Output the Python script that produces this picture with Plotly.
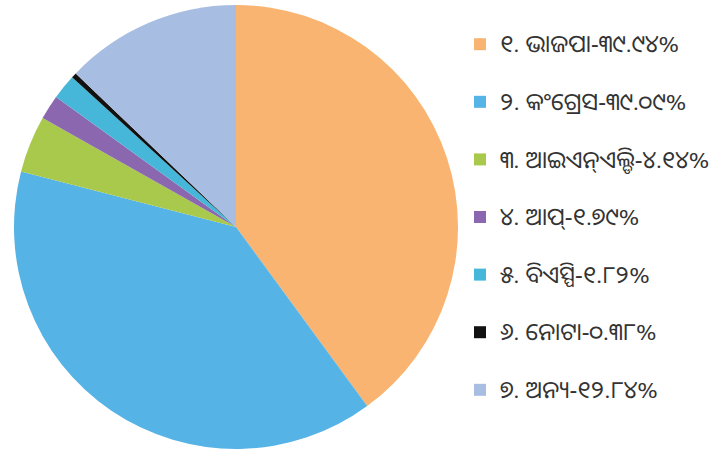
import plotly.graph_objects as go

labels = ["୧. ଭାଜପା-୩୯.୯୪%", "୨. କଂଗ୍ରେସ-୩୯.୦୯%", "୩. ଆଇଏନ୍ଏଲ୍ଡି-୪.୧୪%", "୪. ଆପ୍-୧.୭୯%",
          "୫. ବିଏସ୍ପି-୧.୮୨%", "୬. ନୋଟା-୦.୩୮%", "୭. ଅନ୍ୟ-୧୨.୮୪%"]
values = [39.94, 39.09, 4.14, 1.79, 1.82, 0.38, 12.84]
colors = ["#F8B470", "#56B3E6", "#A8C94B", "#8A67AE", "#46B7D8", "#111111", "#A7BDE1"]

fig = go.Figure(go.Pie(
    labels=["<span style='font-size:24px'>" + l + "</span><br> " for l in labels],
    values=values,
    marker=dict(colors=colors, line=dict(width=0)),
    sort=False, direction="clockwise", rotation=0,
    textinfo="none", hoverinfo="label+percent",
    domain=dict(x=[14/715, 458/715], y=[4/454, 450/454]),
))
fig.update_layout(
    width=715, height=454,
    margin=dict(l=0, r=0, t=0, b=0),
    paper_bgcolor="white", plot_bgcolor="white",
    font=dict(family="Noto Sans Oriya, Noto Sans, DejaVu Sans", color="#333"),
    legend=dict(x=460/715, y=0.947, xanchor="left", yanchor="top",
                font=dict(size=21, color="#333"), valign="top",
                bgcolor="rgba(0,0,0,0)"),
)
fig.write_html("out.html")
